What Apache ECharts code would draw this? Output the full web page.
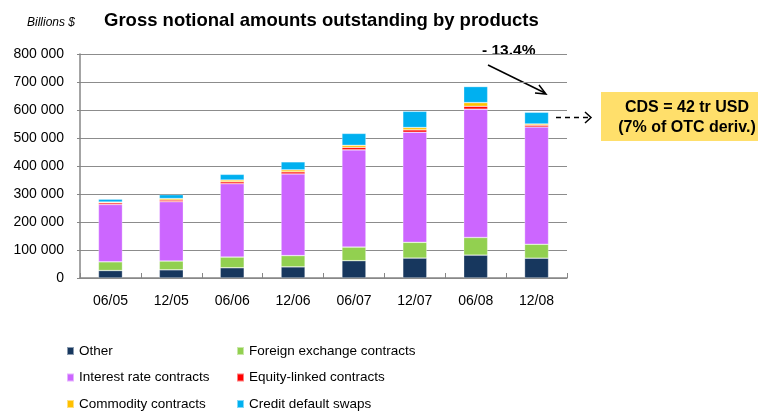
<!DOCTYPE html>
<html>
<head>
<meta charset="utf-8">
<script src="https://cdn.jsdelivr.net/npm/echarts@6/dist/echarts.min.js"></script>
<style>
html,body{margin:0;padding:0;background:#fff;}
#chart{width:759px;height:413px;}
</style>
</head>
<body>
<div id="chart"></div>
<script>
const categories = ['06/05','12/05','06/06','12/06','06/07','12/07','06/08','12/08'];
const other     = [26673, 29199, 36563, 39740, 61713, 71146, 81708, 70742];
const fx        = [31081, 31360, 38127, 40271, 48645, 56238, 62983, 49753];
const ir        = [204795, 211970, 261960, 291582, 347312, 393138, 458304, 418678];
const equity    = [5793, 5793, 6782, 7488, 8590, 8469, 10177, 6494];
const commodity = [2940, 5434, 6394, 7115, 7567, 8455, 13229, 4427];
const cds       = [10211, 13908, 20352, 28650, 42580, 57894, 57325, 41868];
const yTicks = [0, 100000, 200000, 300000, 400000, 500000, 600000, 700000, 800000];

const seriesDefs = [
  {name:'Other', data: other, color:'#17375E'},
  {name:'Foreign exchange contracts', data: fx, color:'#92D050'},
  {name:'Interest rate contracts', data: ir, color:'#CC66FF'},
  {name:'Equity-linked contracts', data: equity, color:'#FF0000'},
  {name:'Commodity contracts', data: commodity, color:'#FFC000'},
  {name:'Credit default swaps', data: cds, color:'#00B0F0'}
];

const FONT = '"Liberation Sans Narrow", "Liberation Sans", Arial, sans-serif';
const chart = echarts.init(document.getElementById('chart'), null, {renderer:'canvas'});

const fmt = v => String(v).replace(/\B(?=(\d{3})+(?!\d))/g, ' ');

const legendCommon = {
  orient: 'vertical',
  top: 343,
  height: 70,
  padding: 0,
  icon: 'rect',
  itemWidth: 7,
  itemHeight: 8,
  itemGap: 10.5,
  selectedMode: false,
  textStyle: {fontFamily: FONT, fontSize: 13.5, color: '#000', lineHeight: 16}
};

chart.setOption({
  animation: false,
  backgroundColor: '#fff',
  title: [{
    text: 'Gross notional amounts outstanding by products',
    left: 99, top: 6,
    textStyle: {fontFamily: 'Liberation Sans, Arial', fontWeight: 'bold', fontSize: 18.5, color: '#000'}
  },{
    text: 'Billions $',
    left: 22, top: 12,
    textStyle: {fontFamily: FONT, fontStyle: 'italic', fontWeight: 'normal', fontSize: 12, color: '#000'}
  }],
  legend: [
    Object.assign({}, legendCommon, {left: 66, data: ['Other','Interest rate contracts','Commodity contracts']}),
    Object.assign({}, legendCommon, {left: 236, data: ['Foreign exchange contracts','Equity-linked contracts','Credit default swaps']})
  ],
  grid: {left: 80, right: 192, top: 54, bottom: 135, containLabel: false},
  xAxis: {
    type: 'category',
    data: categories,
    axisLine: {lineStyle: {color: '#868686', width: 1.5}},
    axisTick: {show: true, inside: true, length: 5, lineStyle: {color: '#868686'}},
    axisLabel: {color: '#000', fontFamily: FONT, fontSize: 14, margin: 16}
  },
  yAxis: {
    type: 'value',
    min: yTicks[0], max: yTicks[yTicks.length-1], interval: 100000,
    axisLine: {show: true, lineStyle: {color: '#868686', width: 1.5}},
    axisTick: {show: true, length: 3, lineStyle: {color: '#868686'}},
    splitLine: {lineStyle: {color: '#8c8c8c', width: 1}},
    axisLabel: {color: '#000', fontFamily: FONT, fontSize: 14, margin: 16, formatter: fmt}
  },
  series: seriesDefs.map(s => ({
    name: s.name,
    type: 'bar',
    stack: 'total',
    barWidth: 24,
    data: s.data,
    itemStyle: {color: s.color, borderColor: 'rgba(255,255,255,0.5)', borderWidth: 0.6}
  })),
  graphic: [
    {type:'text', left: 482, top: 43, style:{text:'- 13.4%', font:'bold 15.5px "Liberation Sans", Arial', fill:'#000'}},
    {type:'line', shape:{x1:488, y1:65, x2:545, y2:93}, style:{stroke:'#000', lineWidth:1.5}},
    {type:'polyline', shape:{points:[[535,93],[546,94],[539,85]]}, style:{stroke:'#000', lineWidth:1.5, fill:null}},
    {type:'line', shape:{x1:556, y1:117.5, x2:590, y2:117.5}, style:{stroke:'#000', lineWidth:1.5, lineDash:[5,4]}},
    {type:'polyline', shape:{points:[[585,112],[591,117.5],[585,123]]}, style:{stroke:'#000', lineWidth:1.5, fill:null}},
    {type:'rect', shape:{x:601, y:92, width:157, height:49}, style:{fill:'#FFDF6B'}},
    {type:'text', x: 687, y: 107.5, style:{text:'CDS = 42 tr USD', font:'bold 16px "Liberation Sans", Arial', fill:'#000', textAlign:'center', textVerticalAlign:'middle'}},
    {type:'text', x: 687, y: 128, style:{text:'(7% of OTC deriv.)', font:'bold 16px "Liberation Sans", Arial', fill:'#000', textAlign:'center', textVerticalAlign:'middle'}}
  ]
});
</script>
</body>
</html>
